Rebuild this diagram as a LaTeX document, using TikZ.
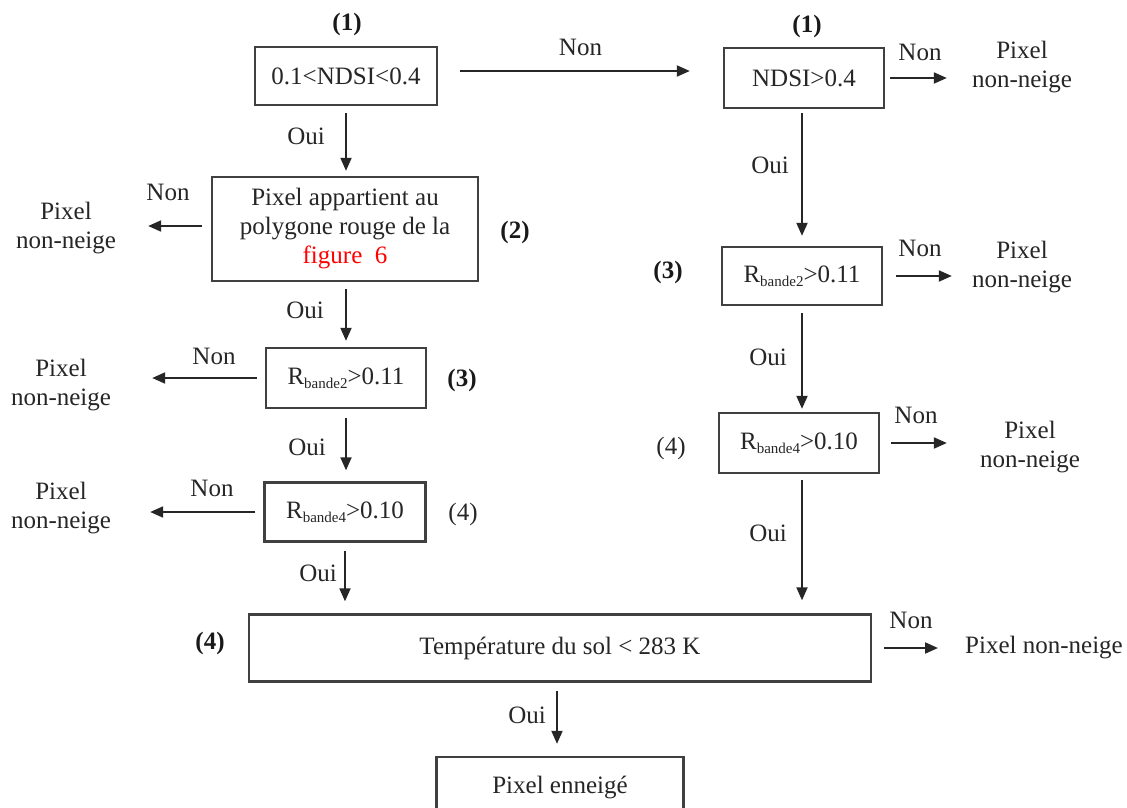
\documentclass[tikz,border=0pt]{standalone}
\usepackage{fontspec}
\setmainfont{Liberation Serif}
\usetikzlibrary{arrows.meta}
\newcommand{\fs}{\fontsize{25}{29}\selectfont}
\newcommand{\Rb}[1]{R\raisebox{-0.35ex}{\fontsize{15}{15}\selectfont bande#1}}
\begin{document}
\begin{tikzpicture}[x=1pt,y=-1pt,
  box/.style={draw=black!75,line width=2.4pt,inner sep=0pt,align=center,font=\fs,text=black!85},
  term/.style={inner sep=0pt,align=center,font=\fs,text=black!85},
  lbl/.style={inner sep=0pt,font=\fs,text=black!85},
  num/.style={inner sep=0pt,font=\fs\bfseries,text=black!90},
  arr/.style={draw=black!85,line width=2pt,-{Triangle[length=13pt,width=11pt]}}]
\useasboundingbox (0,0) rectangle (1127,807);
\clip (0,0) rectangle (1127,807);
\fill[white] (0,0) rectangle (1127,807);

% boxes
\node[box,minimum width=182pt,minimum height=58pt] (A) at (346,76) {0.1<NDSI<0.4};
\node[box,minimum width=160pt,minimum height=60pt] (C) at (804,78) {NDSI>0.4};
\node[box,minimum width=266pt,minimum height=104pt] (B) at (345,229) {Pixel appartient au\\polygone rouge de la\\\textcolor{red}{figure\ \ 6}};
\node[box,minimum width=160pt,minimum height=60pt] (E) at (346,378) {\Rb{2}>0.11};
\node[box,minimum width=161pt,minimum height=59pt] (F) at (345,512) {\Rb{4}>0.10};
\node[box,minimum width=160pt,minimum height=58pt] (D) at (802,276) {\Rb{2}>0.11};
\node[box,minimum width=160pt,minimum height=60pt] (D2) at (799,443) {\Rb{4}>0.10};
\node[box,minimum width=622pt,minimum height=67pt] (G) at (560,648) {Température du sol < 283 K};
\node[box,minimum width=247pt,minimum height=60pt] (H) at (560,787) {Pixel enneigé};

% terminals
\node[term] (T1) at (1022,67) {Pixel\\non-neige};
\node[term] (T2) at (1022,267) {Pixel\\non-neige};
\node[term] (T3) at (1030,447) {Pixel\\non-neige};
\node[term] (T4) at (1044,648) {Pixel non-neige};
\node[term] (L1) at (66,228) {Pixel\\non-neige};
\node[term] (L2) at (61,385) {Pixel\\non-neige};
\node[term] (L3) at (61,508) {Pixel\\non-neige};

% step numbers
\node[num] (n1a) at (347,24) {(1)};
\node[num] (n1b) at (807,26) {(1)};
\node[num] (n2) at (515,232) {(2)};
\node[num] (n3a) at (462,380) {(3)};
\node[lbl] (n4a) at (463,514) {(4)};
\node[num] (n3b) at (668,272) {(3)};
\node[lbl] (n4b) at (671,448) {(4)};
\node[num] (n4c) at (210,643) {(4)};

% connectors
\draw[arr,shorten <=22pt,shorten >=33pt] ([yshift=5pt]A.east) -- ([yshift=5pt]A.east -| C.west)
  node[lbl,midway,above=14pt] {Non};
\draw[arr,shorten <=5pt,shorten >=25pt] (C.east) -- (T1.west |- C.east);
\draw[arr,shorten <=13pt,shorten >=20pt] (D.east) -- (T2.west |- D.east);
\draw[arr,shorten <=11pt,shorten >=33pt] (D2.east) -- (T3.west |- D2.east);
\draw[arr,shorten <=12pt,shorten >=27pt] (G.east) -- (T4.west |- G.east);
\draw[arr,shorten <=9pt,shorten >=32pt] ([yshift=3pt]B.west) -- ([yshift=3pt]L1.east |- B.west);
\draw[arr,shorten <=8pt,shorten >=41pt] (E.west) -- (L2.east |- E.west);
\draw[arr,shorten <=8pt,shorten >=39pt] (F.west) -- (L3.east |- F.west);

\draw[arr,shorten <=7pt,shorten >=5pt] (A.south) -- (A.south |- B.north);
\draw[arr,shorten <=7pt,shorten >=6pt] (E.north |- B.south) -- (E.north);
\draw[arr,shorten <=9pt,shorten >=11pt] (E.south) -- (E.south |- F.north);
\draw[arr,shorten <=8pt,shorten >=12pt] (F.south) -- (F.south |- G.north);
\draw[arr,shorten <=4pt,shorten >=10pt] (D.north |- C.south) -- (D.north);
\draw[arr,shorten <=7pt,shorten >=3pt] (D.south) -- (D.south |- D2.north);
\draw[arr,shorten <=6pt,shorten >=13pt] (D.south |- D2.south) -- (D.south |- G.north);
\draw[arr,shorten <=8pt,shorten >=12pt] (557,0 |- G.south) -- (557,0 |- H.north);

% branch labels
\node[lbl] (o1) at (306,136) {Oui};
\node[lbl] (o2) at (305,310) {Oui};
\node[lbl] (o3) at (307,447) {Oui};
\node[lbl] (o4) at (318,573) {Oui};
\node[lbl] (o5) at (770,165) {Oui};
\node[lbl] (o6) at (768,357) {Oui};
\node[lbl] (o7) at (768,533) {Oui};
\node[lbl] (o8) at (527,715) {Oui};
\node[lbl] (x1) at (168,192) {Non};
\node[lbl] (x2) at (214,356) {Non};
\node[lbl] (x3) at (212,488) {Non};
\node[lbl] (x4) at (920,52) {Non};
\node[lbl] (x5) at (920,248) {Non};
\node[lbl] (x6) at (916,415) {Non};
\node[lbl] (x7) at (911,620) {Non};
\end{tikzpicture}
\end{document}
